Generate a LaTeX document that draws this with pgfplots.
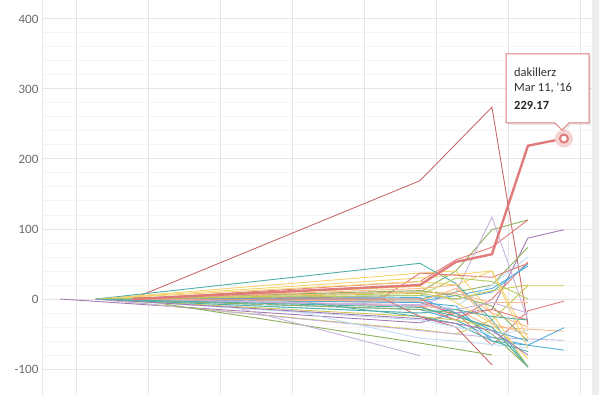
\documentclass[border=0pt]{standalone}
\usepackage{pgfplots}
\pgfplotsset{compat=1.18}
\usepackage{fontspec}
\setmainfont{Lato}
\newfontfamily\tipfont{Carlito}
\definecolor{cred}{HTML}{E07B7B}
\definecolor{cdred}{HTML}{C96A6A}
\definecolor{cteal}{HTML}{4FB0A8}
\definecolor{cyel}{HTML}{F5D36E}
\definecolor{cgreen}{HTML}{8FB05C}
\definecolor{cpurp}{HTML}{A678B5}
\definecolor{clav}{HTML}{C7B3DD}
\definecolor{clblue}{HTML}{BFDDF5}
\definecolor{cblue}{HTML}{4FADDB}
\definecolor{corange}{HTML}{F9B98A}
\definecolor{colive}{HTML}{CBC64E}
\definecolor{cygreen}{HTML}{B5CC5E}
\definecolor{gridmaj}{HTML}{E6E6E6}
\definecolor{gridmin}{HTML}{F4F4F4}
\definecolor{ticktxt}{HTML}{666666}
\definecolor{halo}{HTML}{F6D3D3}
\begin{document}
\begin{tikzpicture}
\begin{axis}[
  at={(42bp,0bp)}, anchor=south west,
  scale only axis, width=550bp, height=395bp,
  xmin=-0.5, xmax=14.78, ymin=-137.1, ymax=427.1,
  xtick={0.47,2.47,4.47,6.47,8.47,10.47,12.47,14.47}, xticklabels={},
  ytick={-100,0,100,200,300,400}, minor y tick num=4,
  grid=both,
  major grid style={color=gridmaj, line width=1bp},
  minor grid style={color=gridmin, line width=1bp},
  axis line style={draw=none},
  major tick length=0pt, minor tick length=0pt,
  yticklabel style={font=\fontsize{11.5}{12}\selectfont, color=ticktxt},
  /pgf/number format/assume math mode=true,
  clip=true,
]
\pgfplotsset{every axis plot/.append style={line width=0.9bp}}
\addplot[cdred, no marks] coordinates {(2,0)(10,169)(12,274)(13,-37)};
\addplot[cpurp, no marks] coordinates {(0,0)(10,-34)(11,-20)(12,-15)(13,87)(14,99)};
\addplot[colive, no marks] coordinates {(1,0)(10,-44)(11,-50)(12,-30)(13,19)(14,19)};
\addplot[cred, no marks] coordinates {(2,0)(10,-5)(11,-20)(12,-66)(13,-17)(14,-3)};
\addplot[corange, no marks] coordinates {(1,0)(10,-10)(11,-15)(12,-40)(13,-43)(14,-46)};
\addplot[clav, no marks] coordinates {(1,0)(10,-45)(11,-50)(12,-55)(13,-57)(14,-59)};
\addplot[cblue, no marks] coordinates {(1,0)(10,-15)(11,-30)(12,-55)(13,-66)(14,-73)};
\addplot[cblue, no marks] coordinates {(1,0)(10,-5)(11,-10)(12,-60)(13,-66)(14,-41)};
\addplot[cgreen, no marks] coordinates {(1,0)(10,10)(11,40)(12,99)(13,113)};
\addplot[cred, no marks] coordinates {(2,0)(10,25)(11,56)(12,74)(13,113)};
\addplot[cgreen, no marks] coordinates {(1,0)(10,0)(11,10)(12,20)(13,74)};
\addplot[cred, no marks] coordinates {(2,0)(10,-10)(11,-30)(12,0)(13,53)};
\addplot[cblue, no marks] coordinates {(1,0)(10,5)(11,0)(12,10)(13,50)};
\addplot[cblue, no marks] coordinates {(1,0)(10,-3)(11,5)(12,15)(13,47)};
\addplot[clblue, no marks] coordinates {(1,0)(10,-20)(11,-10)(12,20)(13,60)};
\addplot[clav, no marks] coordinates {(1,0)(10,-10)(11,10)(12,117)(13,-30)};
\addplot[cgreen, no marks] coordinates {(1,0)(10,-15)(11,-20)(12,-50)(13,-97)};
\addplot[cyel, no marks] coordinates {(1,0)(10,37)(11,40)(12,-20)(13,-97)};
\addplot[cteal, no marks] coordinates {(1,0)(10,51)(11,22)(12,-30)(13,-97)};
\addplot[colive, no marks] coordinates {(1,0)(10,-25)(11,-30)(12,-40)(13,-97)};
\addplot[cyel, no marks] coordinates {(1,0)(10,30)(11,35)(12,40)(13,-56)};
\addplot[corange, no marks] coordinates {(1,0)(10,10)(11,8)(12,-5)(13,-5)};
\addplot[clblue, no marks] coordinates {(5,0)(10,-56)(11,-60)(12,-65)(13,-70)};
\addplot[cteal, no marks] coordinates {(6,0)(10,-25)(11,-35)(12,-60)(13,-75)};
\addplot[cdred, no marks] coordinates {(1,0)(9,0)(10,-25)(11,-40)(12,-94)};
\addplot[cgreen, no marks] coordinates {(2,0)(10,-63)(12,-80)};
\addplot[clav, no marks] coordinates {(4,0)(10,-81)};
\addplot[cred, no marks] coordinates {(1,0)(9,3)(10,37)(12,31)(13,51)};
\addplot[cgreen, no marks] coordinates {(1,0)(10,12)(11,5)(12,-10)(13,-60)};
\addplot[cyel, no marks] coordinates {(2,0)(10,18)(11,-5)(12,-35)(13,-85)};
\addplot[cblue, no marks] coordinates {(1,0)(10,2)(11,-20)(12,-45)(13,-60)};
\addplot[corange, no marks] coordinates {(1,0)(10,-3)(11,15)(12,-20)(13,-40)};
\addplot[colive, no marks] coordinates {(2,0)(10,8)(11,0)(12,12)(13,20)};
\addplot[clav, no marks] coordinates {(1,0)(10,-8)(11,-15)(12,-5)(13,-20)};
\addplot[cred, no marks] coordinates {(2,0)(10,0)(11,-25)(12,-15)(13,-30)};
\addplot[cteal, no marks] coordinates {(1,0)(10,-12)(11,-25)(12,-40)(13,-97)};
\addplot[cyel, no marks] coordinates {(1,0)(10,25)(11,20)(12,40)(13,-70)};
\addplot[cygreen, no marks] coordinates {(1,0)(10,5)(11,30)(12,25)(13,0)};
\addplot[clblue, no marks] coordinates {(1,0)(10,-30)(11,-40)(12,-50)(13,-45)};
\addplot[cpurp, no marks] coordinates {(1,0)(10,-28)(11,-35)(12,-45)(13,-80)};
\addplot[corange, no marks] coordinates {(2,0)(10,15)(11,20)(12,-35)(13,-50)};
\addplot[cteal, no marks] coordinates {(1,0)(10,-20)(11,-15)(12,-25)(13,-30)};
% highlighted series
\addplot[cred, no marks, line width=2.4bp] coordinates {(2,0)(10,20)(11,53)(12,64)(13,219)(14,229.17)};
\addplot[halo, only marks, mark=*, mark size=8.5bp, mark options={draw=halo, fill=halo}] coordinates {(14,229.17)};
\addplot[cred, only marks, mark=*, mark size=4bp, mark options={draw=cred, fill=white, line width=2bp}] coordinates {(14,229.17)};
\end{axis}
\draw[gridmaj, line width=1bp] (42bp,0bp) -- (42bp,395bp);
\fill[gray!14] (592bp,0bp) rectangle (599bp,395bp);
% tooltip
\fill[black, opacity=0.08] (508bp,270bp) -- (557bp,270bp) -- (564bp,263bp) -- (571bp,270bp) -- (591bp,270bp) -- (591bp,339bp) -- (508bp,339bp) -- cycle;
\filldraw[fill=white, draw=cred, line width=1bp] (506bp,272bp) -- (555bp,272bp) -- (562bp,265bp) -- (569bp,272bp) -- (589bp,272bp) -- (589bp,341bp) -- (506bp,341bp) -- cycle;
\node[anchor=west, inner sep=0pt, text=black!80, font=\tipfont\fontsize{12.5}{14}\selectfont] at (514bp,323bp) {dakillerz};
\node[anchor=west, inner sep=0pt, text=black!80, font=\tipfont\fontsize{12.5}{14}\selectfont] at (514bp,307bp) {Mar 11, '16};
\node[anchor=west, inner sep=0pt, text=black!85, font=\tipfont\bfseries\fontsize{12.5}{14}\selectfont] at (514bp,290bp) {229.17};
\pgfresetboundingbox
\useasboundingbox (0bp,0bp) rectangle (599bp,395bp);
\end{tikzpicture}
\end{document}
